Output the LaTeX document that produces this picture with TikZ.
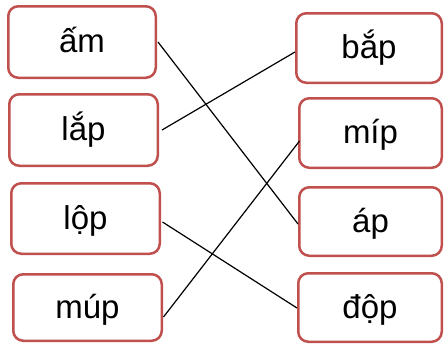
\documentclass[tikz,border=0pt]{standalone}
\usepackage{fontspec}
\setmainfont{Liberation Sans}
\definecolor{boxred}{HTML}{C0504D}
\begin{document}
\begin{tikzpicture}[x=1pt,y=-1pt,
  wbox/.style={draw=boxred, line width=2.5pt, rounded corners=10pt, fill=white,
    inner sep=0pt, text height=26pt, text depth=5pt,
    font=\fontsize{33}{40}\selectfont},
  link/.style={draw=black, line width=1.2pt}]
\useasboundingbox (0,0) rectangle (444,343);
\node[wbox, minimum width=147.5pt, minimum height=71.5pt] (l1) at (82,42) {ấm};
\node[wbox, minimum width=148.5pt, minimum height=71.5pt] (l2) at (83.5,130) {lắp};
\node[wbox, minimum width=148.5pt, minimum height=70.5pt] (l3) at (85.5,218.5) {lộp};
\node[wbox, minimum width=148.5pt, minimum height=66.5pt] (l4) at (87.5,307.5) {múp};
\node[wbox, minimum width=145.5pt, minimum height=69.5pt] (r1) at (369,48) {bắp};
\node[wbox, minimum width=142.5pt, minimum height=69.5pt] (r2) at (370.5,133) {míp};
\node[wbox, minimum width=142.5pt, minimum height=68.5pt] (r3) at (370.5,221.5) {áp};
\node[wbox, minimum width=143.5pt, minimum height=68.5pt] (r4) at (370,307.5) {độp};
\draw[link] ([xshift=1pt]l1.east) -- ([yshift=-2.5pt]r3.west);
\draw[link] ([xshift=3pt]l2.east) -- ([yshift=-4pt]r1.west);
\draw[link] ([xshift=1.5pt,yshift=-3.5pt]l3.east) -- ([yshift=-0.5pt]r4.west);
\draw[link] ([xshift=0.5pt,yshift=-9.5pt]l4.east) -- ([xshift=1.5pt,yshift=-8pt]r2.west);
\end{tikzpicture}
\end{document}
